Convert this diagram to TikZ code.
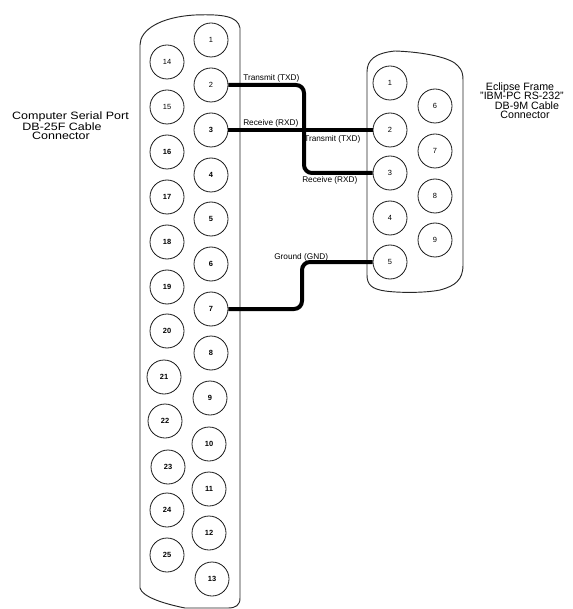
\documentclass[tikz,border=0pt]{standalone}
\usepackage{fontspec}
\setmainfont{Liberation Sans}
\newfontfamily\widesans[FakeStretch=1.17]{Liberation Sans}
\begin{document}
\begin{tikzpicture}[x=0.75pt,y=-0.75pt,
  shell/.style={draw=black!85,line width=0.7pt},
  pinc/.style={circle,draw=black!90,line width=0.6pt,minimum size=25.5pt,inner sep=0pt,font=\fontsize{5.6}{6}\selectfont},
  bpinc/.style={pinc,font=\fontsize{5.6}{6}\selectfont\bfseries},
  wire/.style={line width=3pt,rounded corners=6pt},
  lbl/.style={inner sep=0pt,anchor=base west,font=\fontsize{6.2}{7}\selectfont},
  ttl/.style={inner sep=0pt,anchor=base,font=\fontsize{8}{8}\selectfont},
  wttl/.style={inner sep=0pt,anchor=base,font=\widesans\fontsize{8}{8}\selectfont}]
\useasboundingbox (0,0) rectangle (573,609);
% DB-25 shell
\draw[shell] (140,588) -- (140,45) .. controls (140,30) and (160,17) .. (195,15)
  .. controls (222,14) and (238,16) .. (240,28) -- (240,598)
  .. controls (240,605) and (236,608) .. (228,608) -- (185,608)
  .. controls (165,604) and (142,597) .. (140,588) -- cycle;
% DB-9 shell
\draw[shell] (367,275) -- (367,72) .. controls (367,60) and (375,53) .. (395,51)
  .. controls (425,52) and (452,58) .. (458,66) .. controls (462,70) and (463,74) .. (463,80)
  -- (463,265) .. controls (463,280) and (455,286) .. (440,290)
  .. controls (425,293) and (400,293) .. (385,291) .. controls (372,289) and (367,285) .. (367,275) -- cycle;
% DB-25 pins
\node[pinc] (L1) at (211,40) {1};
\node[pinc] (L2) at (211,85) {2};
\node[bpinc] (L3) at (211,130) {3};
\node[bpinc] (L4) at (211,175) {4};
\node[bpinc] (L5) at (211,219) {5};
\node[bpinc] (L6) at (211,264) {6};
\node[bpinc] (L7) at (211,309) {7};
\node[bpinc] (L8) at (211,353) {8};
\node[bpinc] (L9) at (210,398) {9};
\node[bpinc] (L10) at (209,444) {10};
\node[bpinc] (L11) at (209,489) {11};
\node[bpinc] (L12) at (209,533) {12};
\node[bpinc] (L13) at (212,579) {13};
\node[pinc] (L14) at (167,62) {14};
\node[pinc] (L15) at (167,107) {15};
\node[bpinc] (L16) at (167,152) {16};
\node[bpinc] (L17) at (167,197) {17};
\node[bpinc] (L18) at (167,242) {18};
\node[bpinc] (L19) at (167,287) {19};
\node[bpinc] (L20) at (167,331) {20};
\node[bpinc] (L21) at (164,377) {21};
\node[bpinc] (L22) at (165,421) {22};
\node[bpinc] (L23) at (168,467) {23};
\node[bpinc] (L24) at (167,510) {24};
\node[bpinc] (L25) at (167,555) {25};
% DB-9 pins
\node[pinc] (R1) at (390,83) {1};
\node[pinc] (R2) at (390,130) {2};
\node[pinc] (R3) at (390,173) {3};
\node[pinc] (R4) at (390,218) {4};
\node[pinc] (R5) at (390,262) {5};
\node[pinc] (R6) at (435,106) {6};
\node[pinc] (R7) at (435,151) {7};
\node[pinc] (R8) at (435,196) {8};
\node[pinc] (R9) at (435,240) {9};
% wires
\coordinate (tx) at (304,0);
\coordinate (gx) at (302,0);
\draw[wire] (L2.east) -- (L2.east -| tx) -- (R3.west -| tx) -- (R3.west);
\draw[wire] (L3.east) -- (R2.west);
\draw[wire] (L7.east) -- (L7.east -| gx) -- (R5.west -| gx) -- (R5.west);
% wire labels
\node[lbl] (t1) at (243,81) {Transmit (TXD)};
\node[lbl] (r1) at (243,126) {Receive (RXD)};
\node[lbl] (t2) at (304,142) {Transmit (TXD)};
\node[lbl] (r2) at (302,183) {Receive (RXD)};
\node[lbl] (g1) at (274,259) {Ground (GND)};
% titles
\node[wttl] (la) at (70.5,119.3) {Computer Serial Port};
\node[wttl] (lb) at (62,130.5) {DB-25F Cable};
\node[wttl] (lc) at (61,140) {Connector};
\node[ttl] (ra) at (520,90.7) {Eclipse Frame};
\node[ttl] (rb) at (522,100) {"IBM-PC RS-232"};
\node[ttl] (rc) at (527,109.3) {DB-9M Cable};
\node[ttl] (rd) at (525,118.7) {Connector};
\end{tikzpicture}
\end{document}
